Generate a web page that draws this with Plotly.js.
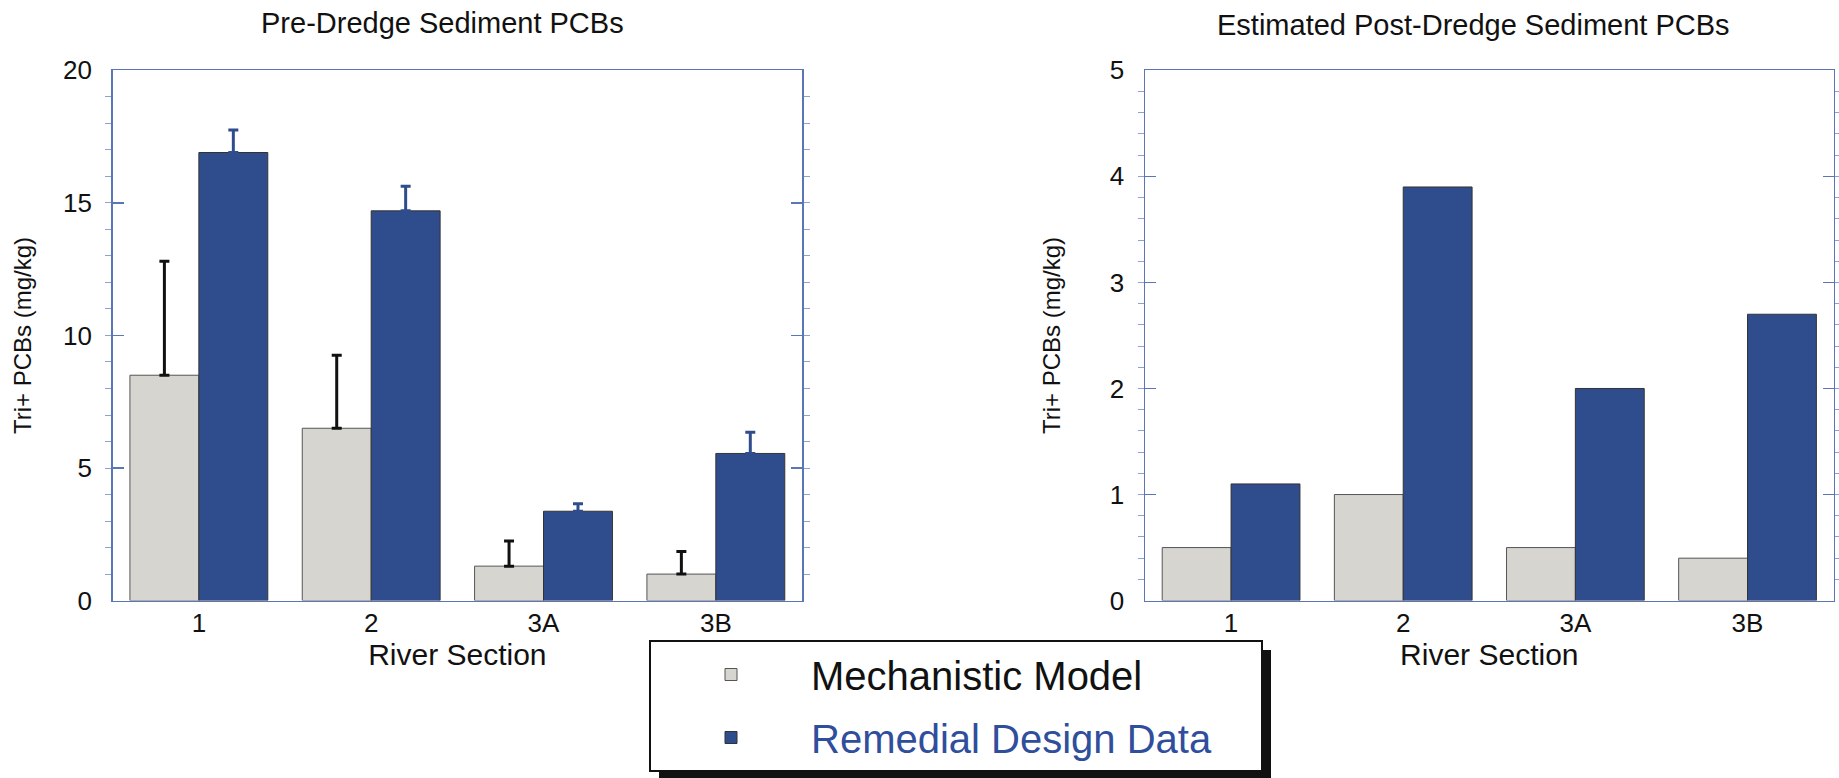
<!DOCTYPE html>
<html>
<head>
<meta charset="utf-8">
<script src="https://cdn.plot.ly/plotly-3.0.1.min.js"></script>
<style>
  html, body { margin: 0; padding: 0; background: #ffffff; }
  #chart { width: 1839px; height: 778px; }
</style>
</head>
<body>
<div id="chart"></div>
<script>
// ---- data ----
const categories = ['1', '2', '3A', '3B'];
const seriesNames = ['Mechanistic Model', 'Remedial Design Data'];

// Pre-dredge sediment PCBs (mg/kg)
const preModel    = [8.5, 6.5, 1.3, 1.0];
const preModelErr = [4.3, 2.75, 0.95, 0.85];
const preData     = [16.9, 14.7, 3.37, 5.55];
const preDataErr  = [0.85, 0.93, 0.28, 0.8];

// Estimated post-dredge sediment PCBs (mg/kg)
const postModel = [0.5, 1.0, 0.5, 0.4];
const postData  = [1.1, 3.9, 2.0, 2.7];

const subplotTitles = ['Pre-Dredge Sediment PCBs', 'Estimated Post-Dredge Sediment PCBs'];
const xTitle = 'River Section';
const yTitle = 'Tri+ PCBs (mg/kg)';

// ---- styles ----
const FONT = 'Liberation Sans, Arial, Helvetica, sans-serif';
const GRAY = '#d7d5d0';
const BLUE = '#2f4d8c';
const AXIS = '#5a76b6';
const W = 1839, H = 778;
const px = v => v / W;
const py = v => (H - v) / H;
const PAD = '&nbsp;&nbsp;&nbsp;&nbsp;';

const zeros = categories.map(() => 0);

const traces = [
  {
    type: 'bar', name: seriesNames[0] + PAD, x: categories, y: preModel,
    xaxis: 'x', yaxis: 'y', legendgroup: 'model', showlegend: true,
    marker: { color: GRAY, line: { color: '#555555', width: 1 } },
    error_y: { type: 'data', symmetric: false, array: preModelErr, arrayminus: zeros,
               color: '#111111', thickness: 3, width: 5 }
  },
  {
    type: 'bar', name: '<span style="color:#2f4e9c">' + seriesNames[1] + '</span>' + PAD,
    x: categories, y: preData,
    xaxis: 'x', yaxis: 'y', legendgroup: 'data', showlegend: true,
    marker: { color: BLUE, line: { color: '#333333', width: 1 } },
    error_y: { type: 'data', symmetric: false, array: preDataErr, arrayminus: zeros,
               color: BLUE, thickness: 3, width: 5 }
  },
  {
    type: 'bar', name: seriesNames[0], x: categories, y: postModel,
    xaxis: 'x2', yaxis: 'y2', legendgroup: 'model', showlegend: false,
    marker: { color: GRAY, line: { color: '#555555', width: 1 } }
  },
  {
    type: 'bar', name: seriesNames[1], x: categories, y: postData,
    xaxis: 'x2', yaxis: 'y2', legendgroup: 'data', showlegend: false,
    marker: { color: BLUE, line: { color: '#333333', width: 1 } }
  }
];

const yDomain = [py(600.6), py(70.3)];

function xAxis(domain, anchor) {
  return {
    domain: domain, anchor: anchor, type: 'category',
    range: [-0.5, 3.5],
    showline: true, linecolor: AXIS, linewidth: 1.5, mirror: true,
    ticks: '', showgrid: false, zeroline: false,
    tickfont: { family: FONT, size: 26, color: '#111111' },
    ticklabelstandoff: -1,
    title: { text: xTitle, font: { family: FONT, size: 30, color: '#111111' }, standoff: 1 }
  };
}
function yAxis(anchor, range, dtick, minorDtick, standoff) {
  return {
    domain: yDomain, anchor: anchor, range: range, dtick: dtick, tick0: 0,
    showline: true, linecolor: AXIS, linewidth: 1.5, mirror: 'ticks',
    ticks: 'inside', ticklen: 11, tickwidth: 1.5, tickcolor: AXIS,
    minor: { dtick: minorDtick, ticks: 'outside', ticklen: 6, tickwidth: 1, tickcolor: '#8fa2cf' },
    showgrid: false, zeroline: false,
    tickfont: { family: FONT, size: 26, color: '#111111' },
    ticklabelstandoff: 14,
    title: { text: yTitle, font: { family: FONT, size: 24, color: '#111111' }, standoff: standoff }
  };
}

const layout = {
  width: W, height: H,
  margin: { l: 0, r: 0, t: 0, b: 0 },
  paper_bgcolor: '#ffffff', plot_bgcolor: '#ffffff',
  font: { family: FONT, color: '#111111' },
  barmode: 'group', bargap: 0.2, bargroupgap: 0,
  xaxis: xAxis([px(112.7), px(802)], 'y'),
  yaxis: yAxis('x', [0, 20], 5, 1, 24),
  xaxis2: xAxis([px(1145), px(1833.6)], 'y2'),
  yaxis2: yAxis('x2', [0, 5], 1, 0.2, 42),
  showlegend: true,
  legend: {
    x: px(649), xanchor: 'left', y: py(640), yanchor: 'top',
    orientation: 'v', traceorder: 'grouped', tracegroupgap: 8,
    bgcolor: '#ffffff', bordercolor: '#111111', borderwidth: 2,
    itemwidth: 150, itemclick: false, itemdoubleclick: false,
    font: { family: FONT, size: 40, color: '#111111' }
  },
  shapes: [],
  annotations: [
    { text: subplotTitles[0], xref: 'paper', yref: 'paper', x: px(442), y: py(23),
      xanchor: 'center', yanchor: 'middle', showarrow: false,
      font: { family: FONT, size: 29, color: '#111111' } },
    { text: subplotTitles[1], xref: 'paper', yref: 'paper', x: px(1473), y: py(25),
      xanchor: 'center', yanchor: 'middle', showarrow: false,
      font: { family: FONT, size: 29, color: '#111111' } }
  ]
};

Plotly.newPlot('chart', traces, layout, { staticPlot: true, displayModeBar: false }).then(function (gd) {
  // drop shadow behind the legend box, placed from the legend's rendered box
  const bg = gd.querySelector('.legend .bg');
  if (!bg) return;
  const root = gd.getBoundingClientRect();
  const b = bg.getBoundingClientRect();
  const off = 9;
  const l = b.left - root.left, t = b.top - root.top;
  return Plotly.relayout(gd, {
    shapes: [{
      type: 'rect', xref: 'paper', yref: 'paper', layer: 'above',
      x0: px(l + off), x1: px(l + b.width + off),
      y0: py(t + off), y1: py(t + b.height + off),
      fillcolor: '#111111', line: { width: 0 }
    }]
  });
});
</script>
</body>
</html>
